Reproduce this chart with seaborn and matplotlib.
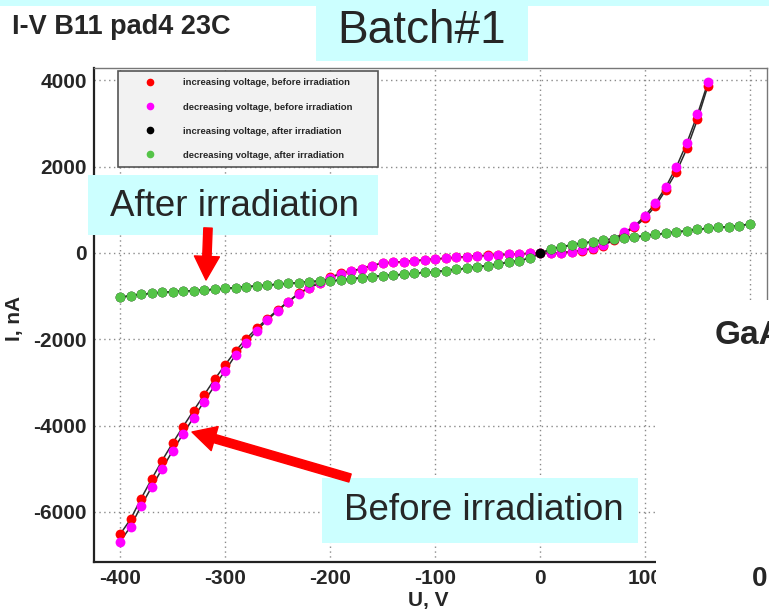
import numpy as np
import pandas as pd
import matplotlib
matplotlib.use("Agg")
import matplotlib.pyplot as plt
import seaborn as sns
from matplotlib.patches import Rectangle, FancyArrowPatch
from matplotlib.lines import Line2D
from matplotlib.ticker import MultipleLocator

# ---------------- data ----------------
u_before = [-400, -390, -380, -370, -360, -350, -340, -330, -320, -310,
            -300, -290, -280, -270, -260, -250, -240, -230, -220, -210,
            -200, -190, -180, -170, -160, -150, -140, -130, -120, -110,
            -100, -90, -80, -70, -60, -50, -40, -30, -20, -10,
            0, 10, 20, 30, 40, 50, 60, 70, 80, 90,
            100, 110, 120, 130, 140, 150, 160]

i_inc_before = [-6520, -6172, -5694, -5245, -4813, -4410, -4025, -3654, -3291, -2930,
                -2596, -2271, -1993, -1746, -1530, -1321, -1128, -935, -803, -690,
                -565, -475, -420, -360, -290, -235, -212, -198, -182, -160,
                -137, -122, -98, -83, -62, -58, -44, -30, -22, -8,
                0, -10, 5, 25, 55, 98, 170, 295, 445, 595,
                810, 1090, 1470, 1884, 2426, 3098, 3880]

i_dec_before = [-6690, -6343, -5863, -5430, -5005, -4589, -4195, -3816, -3446, -3080,
                -2735, -2364, -2078, -1800, -1560, -1340, -1140, -950, -810, -700,
                -575, -482, -428, -368, -294, -239, -216, -201, -185, -162,
                -139, -124, -100, -85, -62, -62, -46, -31, -23, -8,
                0, -8, 8, 31, 62, 108, 185, 317, 475, 620,
                865, 1151, 1537, 2000, 2557, 3214, 3956]

u_after_inc = [-400, -390, -380, -370, -360, -350, -340, -330, -320, -310,
               -300, -290, -280, -270, -260, -250, -240, -230, -220, -210,
               -200, -190, -180, -170, -160, -150, -140, -130, -120, -110,
               -100, -90, -80, -70, -60, -50, -40, -30, -20, -10,
               0, 10, 20, 30, 40, 50, 60, 70, 80, 90,
               100, 110, 120, 130, 140, 150, 160, 170, 180, 190, 200]

i_inc_after = [-1027, -989, -957, -934, -911, -896, -881, -870, -858, -842,
               -819, -803, -780, -765, -742, -726, -703, -688, -665, -649,
               -650, -626, -603, -572, -549, -526, -510, -495, -471, -448,
               -433, -410, -378, -355, -317, -294, -255, -216, -178, -124,
               0, 86, 140, 185, 224, 263, 301, 324, 355, 378,
               394, 433, 456, 494, 510, 549, 572, 596, 610, 633, 672]

u_after_dec = [-400, -390, -380, -370, -360, -350, -340, -330, -320, -310,
               -300, -290, -280, -270, -260, -250, -240, -230, -220, -210,
               -200, -190, -180, -170, -160, -150, -140, -130, -120, -110,
               -100, -90, -80, -70, -60, -50, -40, -30, -20, -10,
               10, 20, 30, 40, 50, 60, 70, 80, 90,
               100, 110, 120, 130, 140, 150, 160, 170, 180, 190, 200]

i_dec_after = [-1027, -989, -957, -934, -911, -896, -881, -870, -858, -842,
               -819, -803, -780, -765, -742, -726, -703, -688, -665, -649,
               -650, -626, -603, -572, -549, -526, -510, -495, -471, -448,
               -433, -410, -378, -355, -317, -294, -255, -216, -178, -124,
               86, 140, 185, 224, 263, 301, 324, 355, 378,
               394, 433, 456, 494, 510, 549, 572, 596, 610, 633, 672]

series_labels = ["increasing voltage, before irradiation",
                 "decreasing voltage, before irradiation",
                 "increasing voltage, after irradiation",
                 "decreasing voltage, after irradiation"]
series_colors = ["#ff0000", "#ff00ff", "#000000", "#55c448"]

x_ticks = [-400, -300, -200, -100, 0, 100, 200]
x_tick_labels = ["-400", "-300", "-200", "-100", "0", "100", ""]
y_ticks = [-6000, -4000, -2000, 0, 2000, 4000]
y_tick_labels = ["-6000", "-4000", "-2000", "0", "2000", "4000"]

# ---------------- build table ----------------
frames = []
for lab, u, i in zip(series_labels,
                     [u_before, u_before, u_after_inc, u_after_dec],
                     [i_inc_before, i_dec_before, i_inc_after, i_dec_after]):
    frames.append(pd.DataFrame({"U": u, "I": i, "series": lab}))
df = pd.concat(frames, ignore_index=True)

# ---------------- figure ----------------
sns.set_style("white")
plt.rcParams["font.family"] = ["Liberation Sans", "DejaVu Sans"]
plt.rcParams["axes.unicode_minus"] = False

W, H = 769, 613
fig = plt.figure(figsize=(W / 100, H / 100), dpi=100)
fig.patch.set_facecolor("white")

ax_left, ax_top, ax_right, ax_bottom = 94, 68, 767, 562
ax = fig.add_axes([ax_left / W, 1 - ax_bottom / H,
                   (ax_right - ax_left) / W, (ax_bottom - ax_top) / H])

for lab, col in zip(series_labels, series_colors):
    sub = df[df["series"] == lab]
    sns.lineplot(data=sub, x="U", y="I", sort=False, estimator=None,
                 color="#2a2a2a", linewidth=1.1, ax=ax, legend=False, zorder=2)
    sns.scatterplot(data=sub, x="U", y="I", color=col, s=50, linewidth=0,
                    ax=ax, legend=False, zorder=3)

ax.set_xlim(-424.8, 216.2)
ax.set_ylim(-7161, 4287)
ax.set_xticks(x_ticks)
ax.set_xticklabels(x_tick_labels)
ax.set_yticks(y_ticks)
ax.set_yticklabels(y_tick_labels)
ax.xaxis.set_minor_locator(MultipleLocator(20))
ax.yaxis.set_minor_locator(MultipleLocator(500))
ax.grid(True, which="major", color="#8a8a8a", linestyle=(0, (1, 2.5)), linewidth=1)
ax.set_axisbelow(True)

ax.tick_params(which="major", direction="in", length=14, width=1.2,
               labelsize=15, pad=5, color="#222222")
ax.tick_params(which="minor", direction="in", length=6, width=1, color="#222222")
for t in ax.get_xticklabels() + ax.get_yticklabels():
    t.set_fontweight("bold")

for s in ["left", "bottom"]:
    ax.spines[s].set_color("#222222")
    ax.spines[s].set_linewidth(1.6)
for s in ["top", "right"]:
    ax.spines[s].set_color("#777777")
    ax.spines[s].set_linewidth(1.0)

ax.set_xlabel("U, V", fontsize=15, fontweight="bold")
ax.xaxis.set_label_coords(0.496, -0.058)
ax.set_ylabel("I, nA", fontsize=15, fontweight="bold")
ax.yaxis.set_label_coords(-0.104, 0.494)

handles = [Line2D([], [], marker="o", linestyle="", color=c, markersize=4.5)
           for c in series_colors]
leg = ax.legend(handles, series_labels, loc="upper left",
                bbox_to_anchor=(118 / W, 1 - 72 / H, 260 / W, 0.001),
                bbox_transform=fig.transFigure, mode="expand",
                prop={"size": 6.8, "weight": "bold"}, frameon=True,
                fancybox=False, framealpha=1,
                facecolor="#f2f2f2", edgecolor="#555555",
                borderpad=0.75, labelspacing=1.6, handlelength=5.2,
                handletextpad=0.9, borderaxespad=0)
leg.get_frame().set_linewidth(1.2)

# ---------------- slide decorations ----------------
def fig_rect(x0, y0, x1, y1, color, z):
    r = Rectangle((x0 / W, 1 - y1 / H), (x1 - x0) / W, (y1 - y0) / H,
                  transform=fig.transFigure, facecolor=color,
                  edgecolor="none", zorder=z)
    fig.add_artist(r)

cyan = "#ccffff"
fig_rect(0, 0, W, 6, cyan, 4)
fig_rect(316, 0, 528, 61, cyan, 4)
fig_rect(88, 175, 378, 235, cyan, 4)
fig_rect(322, 478, 638, 543, cyan, 4)
fig_rect(656, 300, W, H, "white", 4)

def fig_text(x, y, s, **kw):
    fig.text(x / W, 1 - y / H, s, zorder=7, **kw)

fig_text(12, 27, "I-V B11 pad4 23C", fontsize=19.5, fontweight="bold",
         ha="left", va="center")
fig_text(422, 31, "Batch#1", fontsize=33, ha="center", va="center")
fig_text(234, 206, "After irradiation", fontsize=26.5, ha="center", va="center")
fig_text(484, 511, "Before irradiation", fontsize=26.5, ha="center", va="center")
fig_text(715, 336, "GaAs", fontsize=24, fontweight="bold", ha="left", va="center")
fig_text(752, 579, "0", fontsize=20, fontweight="bold", ha="left", va="center")

def fig_arrow(x0, y0, x1, y1):
    a = FancyArrowPatch((x0 / W, 1 - y0 / H), (x1 / W, 1 - y1 / H),
                        transform=fig.transFigure,
                        arrowstyle="simple,head_length=0.85,head_width=0.9,tail_width=0.3",
                        mutation_scale=20, color="#ff0000", shrinkA=0, shrinkB=0,
                        zorder=6)
    fig.add_artist(a)

fig_arrow(208, 228, 206, 280)
fig_arrow(350, 478, 192, 432)

fig.savefig("out.png", dpi=100)
